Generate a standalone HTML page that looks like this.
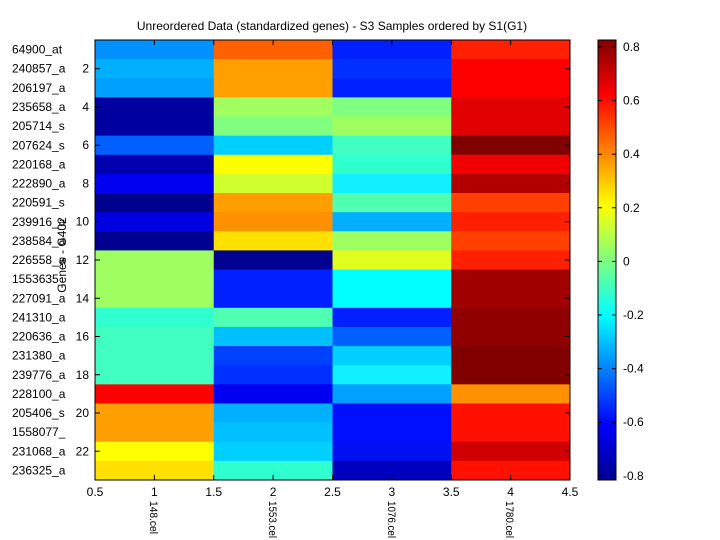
<!DOCTYPE html>
<html><head><style>body{margin:0;background:#fff}svg{display:block;font-family:"Liberation Sans",sans-serif}</style></head><body>
<svg width="720" height="540" xmlns="http://www.w3.org/2000/svg">
<defs><linearGradient id="jet" x1="0" y1="1" x2="0" y2="0">
<stop offset="0" stop-color="#00008f"/><stop offset="0.125" stop-color="#0000ff"/><stop offset="0.375" stop-color="#00ffff"/><stop offset="0.625" stop-color="#ffff00"/><stop offset="0.875" stop-color="#ff0000"/><stop offset="1" stop-color="#800000"/></linearGradient></defs>
<rect width="720" height="540" fill="#fff"/>
<text x="332" y="30" font-size="12" text-anchor="middle">Unreordered Data (standardized genes) - S3 Samples ordered by S1(G1)</text>
<g>
<g transform="translate(0,40)"><rect x="95" width="119.3" height="19.7" fill="#0090ff"/><rect x="213.75" width="119.3" height="19.7" fill="#ff6000"/><rect x="332.5" width="119.3" height="19.7" fill="#0020ff"/><rect x="451.25" width="118.75" height="19.7" fill="#ff2000"/></g>
<g transform="translate(0,59.13)"><rect x="95" width="119.3" height="19.7" fill="#00b0ff"/><rect x="213.75" width="119.3" height="19.7" fill="#ffa000"/><rect x="332.5" width="119.3" height="19.7" fill="#0030ff"/><rect x="451.25" width="118.75" height="19.7" fill="#ff0000"/></g>
<g transform="translate(0,78.26)"><rect x="95" width="119.3" height="19.7" fill="#00a0ff"/><rect x="213.75" width="119.3" height="19.7" fill="#ffa000"/><rect x="332.5" width="119.3" height="19.7" fill="#0020ff"/><rect x="451.25" width="118.75" height="19.7" fill="#ff0000"/></g>
<g transform="translate(0,97.39)"><rect x="95" width="119.3" height="19.7" fill="#0000a0"/><rect x="213.75" width="119.3" height="19.7" fill="#a0ff60"/><rect x="332.5" width="119.3" height="19.7" fill="#80ff80"/><rect x="451.25" width="118.75" height="19.7" fill="#e00000"/></g>
<g transform="translate(0,116.52)"><rect x="95" width="119.3" height="19.7" fill="#0000a0"/><rect x="213.75" width="119.3" height="19.7" fill="#80ff80"/><rect x="332.5" width="119.3" height="19.7" fill="#a0ff60"/><rect x="451.25" width="118.75" height="19.7" fill="#e00000"/></g>
<g transform="translate(0,135.65)"><rect x="95" width="119.3" height="19.7" fill="#0060ff"/><rect x="213.75" width="119.3" height="19.7" fill="#00d0ff"/><rect x="332.5" width="119.3" height="19.7" fill="#40ffc0"/><rect x="451.25" width="118.75" height="19.7" fill="#800000"/></g>
<g transform="translate(0,154.78)"><rect x="95" width="119.3" height="19.7" fill="#0000b0"/><rect x="213.75" width="119.3" height="19.7" fill="#ffff00"/><rect x="332.5" width="119.3" height="19.7" fill="#30ffd0"/><rect x="451.25" width="118.75" height="19.7" fill="#f00000"/></g>
<g transform="translate(0,173.91)"><rect x="95" width="119.3" height="19.7" fill="#0000f0"/><rect x="213.75" width="119.3" height="19.7" fill="#d0ff30"/><rect x="332.5" width="119.3" height="19.7" fill="#10f0ff"/><rect x="451.25" width="118.75" height="19.7" fill="#b00000"/></g>
<g transform="translate(0,193.04)"><rect x="95" width="119.3" height="19.7" fill="#000090"/><rect x="213.75" width="119.3" height="19.7" fill="#ffa000"/><rect x="332.5" width="119.3" height="19.7" fill="#50ffb0"/><rect x="451.25" width="118.75" height="19.7" fill="#ff4000"/></g>
<g transform="translate(0,212.17)"><rect x="95" width="119.3" height="19.7" fill="#0000e0"/><rect x="213.75" width="119.3" height="19.7" fill="#ff9000"/><rect x="332.5" width="119.3" height="19.7" fill="#00b0ff"/><rect x="451.25" width="118.75" height="19.7" fill="#ff2000"/></g>
<g transform="translate(0,231.30)"><rect x="95" width="119.3" height="19.7" fill="#000090"/><rect x="213.75" width="119.3" height="19.7" fill="#ffe000"/><rect x="332.5" width="119.3" height="19.7" fill="#a0ff60"/><rect x="451.25" width="118.75" height="19.7" fill="#ff4000"/></g>
<g transform="translate(0,250.43)"><rect x="95" width="119.3" height="19.7" fill="#a0ff60"/><rect x="213.75" width="119.3" height="19.7" fill="#000090"/><rect x="332.5" width="119.3" height="19.7" fill="#e0ff20"/><rect x="451.25" width="118.75" height="19.7" fill="#ff2000"/></g>
<g transform="translate(0,269.57)"><rect x="95" width="119.3" height="19.7" fill="#a0ff60"/><rect x="213.75" width="119.3" height="19.7" fill="#0020ff"/><rect x="332.5" width="119.3" height="19.7" fill="#00ffff"/><rect x="451.25" width="118.75" height="19.7" fill="#a00000"/></g>
<g transform="translate(0,288.70)"><rect x="95" width="119.3" height="19.7" fill="#a0ff60"/><rect x="213.75" width="119.3" height="19.7" fill="#0020ff"/><rect x="332.5" width="119.3" height="19.7" fill="#00ffff"/><rect x="451.25" width="118.75" height="19.7" fill="#a00000"/></g>
<g transform="translate(0,307.83)"><rect x="95" width="119.3" height="19.7" fill="#30ffd0"/><rect x="213.75" width="119.3" height="19.7" fill="#50ffb0"/><rect x="332.5" width="119.3" height="19.7" fill="#0020ff"/><rect x="451.25" width="118.75" height="19.7" fill="#900000"/></g>
<g transform="translate(0,326.96)"><rect x="95" width="119.3" height="19.7" fill="#40ffc0"/><rect x="213.75" width="119.3" height="19.7" fill="#00c0ff"/><rect x="332.5" width="119.3" height="19.7" fill="#0060ff"/><rect x="451.25" width="118.75" height="19.7" fill="#900000"/></g>
<g transform="translate(0,346.09)"><rect x="95" width="119.3" height="19.7" fill="#40ffc0"/><rect x="213.75" width="119.3" height="19.7" fill="#0040ff"/><rect x="332.5" width="119.3" height="19.7" fill="#00d0ff"/><rect x="451.25" width="118.75" height="19.7" fill="#800000"/></g>
<g transform="translate(0,365.22)"><rect x="95" width="119.3" height="19.7" fill="#40ffc0"/><rect x="213.75" width="119.3" height="19.7" fill="#0030ff"/><rect x="332.5" width="119.3" height="19.7" fill="#10f0ff"/><rect x="451.25" width="118.75" height="19.7" fill="#800000"/></g>
<g transform="translate(0,384.35)"><rect x="95" width="119.3" height="19.7" fill="#ff0000"/><rect x="213.75" width="119.3" height="19.7" fill="#0000f0"/><rect x="332.5" width="119.3" height="19.7" fill="#00a0ff"/><rect x="451.25" width="118.75" height="19.7" fill="#ff9000"/></g>
<g transform="translate(0,403.48)"><rect x="95" width="119.3" height="19.7" fill="#ffa000"/><rect x="213.75" width="119.3" height="19.7" fill="#00b0ff"/><rect x="332.5" width="119.3" height="19.7" fill="#0010ff"/><rect x="451.25" width="118.75" height="19.7" fill="#ff1000"/></g>
<g transform="translate(0,422.61)"><rect x="95" width="119.3" height="19.7" fill="#ffa000"/><rect x="213.75" width="119.3" height="19.7" fill="#00c0ff"/><rect x="332.5" width="119.3" height="19.7" fill="#0010ff"/><rect x="451.25" width="118.75" height="19.7" fill="#ff1000"/></g>
<g transform="translate(0,441.74)"><rect x="95" width="119.3" height="19.7" fill="#ffff00"/><rect x="213.75" width="119.3" height="19.7" fill="#00d0ff"/><rect x="332.5" width="119.3" height="19.7" fill="#0010f0"/><rect x="451.25" width="118.75" height="19.7" fill="#d00000"/></g>
<g transform="translate(0,460.87)"><rect x="95" width="119.3" height="19.13" fill="#ffe000"/><rect x="213.75" width="119.3" height="19.13" fill="#30ffd0"/><rect x="332.5" width="119.3" height="19.13" fill="#0000c0"/><rect x="451.25" width="118.75" height="19.13" fill="#ff1000"/></g>
</g>
<rect x="95" y="40" width="475" height="440" fill="none" stroke="#000"/>
<g font-size="12">
<text x="12" y="53.6">64900_at</text><text x="12" y="72.7">240857_a</text><text x="12" y="91.9">206197_a</text><text x="12" y="111">235658_a</text><text x="12" y="130.1">205714_s</text><text x="12" y="149.3">207624_s</text><text x="12" y="168.4">220168_a</text><text x="12" y="187.5">222890_a</text><text x="12" y="206.6">220591_s</text><text x="12" y="225.8">239916_a</text><text x="12" y="244.9">238584_a</text><text x="12" y="264">226558_a</text><text x="12" y="283.2">1553635_</text><text x="12" y="302.3">227091_a</text><text x="12" y="321.4">241310_a</text><text x="12" y="340.6">220636_a</text><text x="12" y="359.7">231380_a</text><text x="12" y="378.8">239776_a</text><text x="12" y="398">228100_a</text><text x="12" y="417.1">205406_s</text><text x="12" y="436.2">1558077_</text><text x="12" y="455.3">231068_a</text><text x="12" y="474.5">236325_a</text>
</g>
<g font-size="12" text-anchor="end">
<text x="89" y="72.7">2</text><text x="89" y="111">4</text><text x="89" y="149.2">6</text><text x="89" y="187.5">8</text><text x="89" y="225.7">10</text><text x="89" y="264">12</text><text x="89" y="302.3">14</text><text x="89" y="340.5">16</text><text x="89" y="378.8">18</text><text x="89" y="417">20</text><text x="89" y="455.3">22</text>
</g>
<g stroke="#000">
<path d="M95 68.7h5M95 106.96h5M95 145.22h5M95 183.48h5M95 221.74h5M95 260h5M95 298.26h5M95 336.52h5M95 374.78h5M95 413.04h5M95 451.3h5"/>
<path d="M565 68.7h5M565 106.96h5M565 145.22h5M565 183.48h5M565 221.74h5M565 260h5M565 298.26h5M565 336.52h5M565 374.78h5M565 413.04h5M565 451.3h5"/>
<path d="M154.375 480v-5M213.75 480v-5M273.125 480v-5M332.5 480v-5M391.875 480v-5M451.25 480v-5M510.625 480v-5"/>
<path d="M154.375 40v5M213.75 40v5M273.125 40v5M332.5 40v5M391.875 40v5M451.25 40v5M510.625 40v5"/>
</g>
<g font-size="12" text-anchor="middle">
<text x="95" y="496">0.5</text><text x="154.4" y="496">1</text><text x="213.75" y="496">1.5</text><text x="273.1" y="496">2</text><text x="332.5" y="496">2.5</text><text x="391.9" y="496">3</text><text x="451.25" y="496">3.5</text><text x="510.6" y="496">4</text><text x="570" y="496">4.5</text>
</g>
<g font-size="11">
<text transform="translate(150,501) rotate(90)" textLength="33" lengthAdjust="spacingAndGlyphs">148.cel</text>
<text transform="translate(269,501) rotate(90)" textLength="37" lengthAdjust="spacingAndGlyphs">1553.cel</text>
<text transform="translate(388,501) rotate(90)" textLength="37" lengthAdjust="spacingAndGlyphs">1076.cel</text>
<text transform="translate(506,501) rotate(90)" textLength="37" lengthAdjust="spacingAndGlyphs">1780.cel</text>
</g>
<text transform="translate(66,255) rotate(-90)" font-size="12" text-anchor="middle">Genes - G402</text>
<rect x="598" y="40" width="18" height="440" fill="url(#jet)" stroke="#000"/>
<g stroke="#000">
<path d="M598 47h4M598 100.6h4M598 154.2h4M598 207.8h4M598 261.4h4M598 315h4M598 368.6h4M598 422.2h4M598 475.8h4"/>
<path d="M612 47h4M612 100.6h4M612 154.2h4M612 207.8h4M612 261.4h4M612 315h4M612 368.6h4M612 422.2h4M612 475.8h4"/>
</g>
<g font-size="12">
<text x="623" y="51">0.8</text><text x="623" y="104.6">0.6</text><text x="623" y="158.2">0.4</text><text x="623" y="211.8">0.2</text><text x="623" y="265.4">0</text><text x="623" y="319">-0.2</text><text x="623" y="372.6">-0.4</text><text x="623" y="426.2">-0.6</text><text x="623" y="479.8">-0.8</text>
</g>
</svg></body></html>
